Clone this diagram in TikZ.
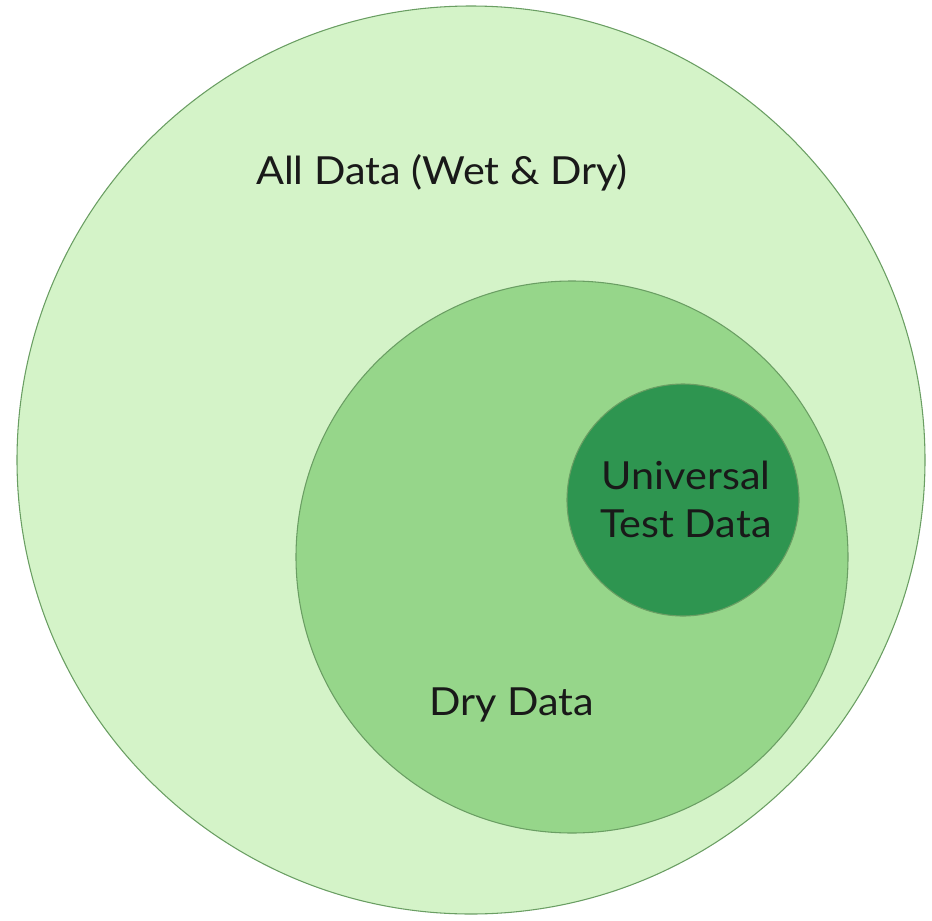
\documentclass[tikz,border=0pt]{standalone}
\usepackage{fontspec}
\setmainfont{Lato}[FakeStretch=1.07]
\usetikzlibrary{positioning}

\definecolor{allfill}{HTML}{D4F3C8}
\definecolor{dryfill}{HTML}{96D68A}
\definecolor{testfill}{HTML}{2E9550}
\definecolor{ringline}{HTML}{6A9E63}

\tikzset{
  set/.style={circle, draw=ringline, line width=0.8pt, inner sep=0pt},
  setlabel/.style={font=\fontsize{29}{36}\selectfont, text=black!90, inner sep=0pt}
}

\begin{document}
\begin{tikzpicture}[x=0.75pt, y=-0.75pt]

\useasboundingbox (0,0) rectangle (932,921);

% the three nested sets
\node[set, fill=allfill, minimum size=681pt] (all) at (471,460) {};
\node[set, fill=dryfill, minimum size=414pt] (dry) at (572,557) {};
\node[set, fill=testfill, minimum size=174pt] (test) at (683,500) {};

% labels
\node[setlabel, anchor=base] (alllabel) at (442,184) {All Data (Wet \& Dry)};
\node[setlabel, anchor=base] (drylabel) at (512,715) {Dry Data};
\node[setlabel, align=center] (testlabel) at (686,499) {Universal\\Test Data};

\end{tikzpicture}
\end{document}
